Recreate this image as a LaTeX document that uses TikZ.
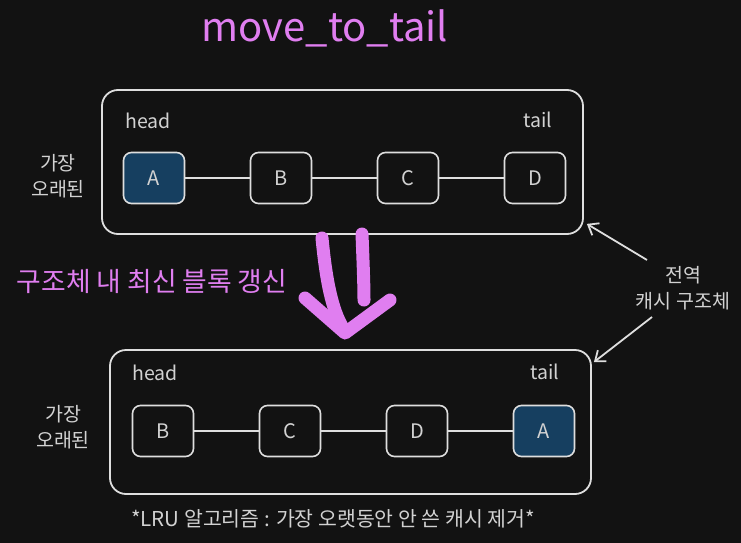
\documentclass[tikz,border=0pt]{standalone}
\usepackage{fontspec}
\setmainfont{Noto Sans CJK KR}
\usetikzlibrary{arrows.meta,positioning}
\definecolor{bg}{HTML}{121212}
\definecolor{ink}{HTML}{DEDEDE}
\definecolor{txt}{HTML}{D2D2D2}
\definecolor{pinkish}{HTML}{E07EF0}
\definecolor{blockblue}{HTML}{163F60}

\begin{document}
\begin{tikzpicture}[x=1pt,y=-1pt,node distance=127pt,on grid,
    block/.style={draw=ink,line width=1.6pt,rounded corners=8pt,minimum width=61pt,minimum height=51pt,text=txt,font=\fontsize{20}{24}\selectfont},
    newest/.style={block,fill=blockblue},
    cachebox/.style={draw=ink,line width=1.8pt,rounded corners=16pt,minimum width=481pt,minimum height=144pt},
    lbl/.style={text=txt,font=\fontsize{19.5}{26}\selectfont,align=center,inner sep=0pt},
    link/.style={draw=ink,line width=1.6pt},
    pointer/.style={draw=ink,line width=1.8pt,-{Straight Barb[length=9pt,width=14pt]}},
    pinkstroke/.style={draw=pinkish,line width=13pt,line cap=round,line join=round}]
    \fill[bg] (0,0) rectangle (741,543);
    \useasboundingbox (0,0) rectangle (741,543);

    % title and caption
    \node[text=pinkish,font=\fontsize{40}{44}\selectfont] (title) at (325,28) {move\_to\_tail};
    \node[text=pinkish,font=\fontsize{26.8}{30}\selectfont] (update) at (152,281) {구조체 내 최신 블록 갱신};
    \node[lbl,font=\fontsize{20.5}{24}\selectfont] (note) at (333,519) {*LRU 알고리즘 : 가장 오랫동안 안 쓴 캐시 제거*};

    % cache before
    \node[cachebox] (cache_1) at (342.5,162) {};
    \node[lbl] (head_1) at (148,121) {head};
    \node[lbl] (tail_1) at (538,120) {tail};
    \node[lbl] (old_1) at (58,176) {가장\\오래된};
    \node[newest] (a_1) at (154,178) {A};
    \node[block] (b_1) [right=of a_1] {B};
    \node[block] (c_1) [right=of b_1] {C};
    \node[block] (d_1) [right=of c_1] {D};
    \path[link] (a_1) edge (b_1)
        (b_1) edge (c_1)
        (c_1) edge (d_1);

    % cache after
    \node[cachebox] (cache_2) at (350.5,422) {};
    \node[lbl] (head_2) at (155,373) {head};
    \node[lbl] (tail_2) at (545,372) {tail};
    \node[lbl] (old_2) at (63,427) {가장\\오래된};
    \node[block] (b_2) at (163,431) {B};
    \node[block] (c_2) [right=of b_2] {C};
    \node[block] (d_2) [right=of c_2] {D};
    \node[newest] (a_2) [right=of d_2] {A};
    \path[link] (b_2) edge (c_2)
        (c_2) edge (d_2)
        (d_2) edge (a_2);

    % global cache label
    \node[lbl] (global) at (683,288) {전역\\캐시 구조체};
    \draw[pointer] ([shift={(-36,-28)}]global.center) -- ([shift={(3,-11)}]cache_1.south east);
    \draw[pointer] ([shift={(-31,29)}]global.center) -- ([shift={(2,13)}]cache_2.north east);

    % big pink arrow
    \draw[pinkstroke] (322,238) .. controls (326,280) and (332,310) .. (343,328);
    \draw[pinkstroke] (362,234) .. controls (363,260) and (364,285) .. (364,300);
    \draw[pinkstroke] (305,298) -- (345,333) -- (390,300);
\end{tikzpicture}
\end{document}
